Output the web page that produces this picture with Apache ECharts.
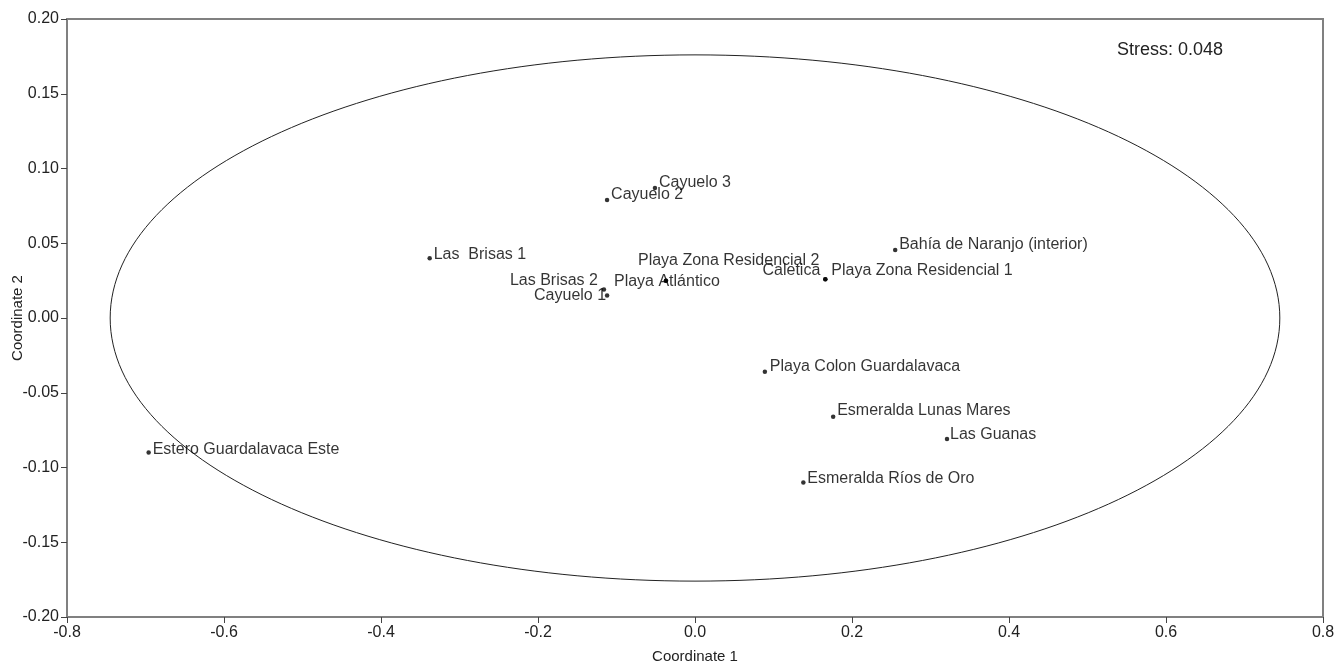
<!DOCTYPE html>
<html>
<head>
<meta charset="utf-8">
<script src="https://cdn.jsdelivr.net/npm/echarts@6/dist/echarts.min.js"></script>
<style>html,body{margin:0;padding:0;background:#fff}#c{width:1337px;height:666px}</style>
</head>
<body>
<div id="c"></div>
<script>
// ---- data ----
var siteNames = ['Estero Guardalavaca Este','Las  Brisas 1','Cayuelo 2','Cayuelo 3','Las Brisas 2','Cayuelo 1','Playa Atlántico','Playa Zona Residencial 2','Caletica','Playa Zona Residencial 1','Bahía de Naranjo (interior)','Playa Colon Guardalavaca','Esmeralda Lunas Mares','Las Guanas','Esmeralda Ríos de Oro'];
var coord1 = [-0.696,-0.338,-0.112,-0.051,-0.116,-0.112,-0.037,-0.037,0.166,0.166,0.255,0.089,0.176,0.321,0.138];
var coord2 = [-0.090,0.040,0.079,0.087,0.019,0.015,0.025,0.025,0.026,0.026,0.0455,-0.036,-0.066,-0.081,-0.110];
var ellipseCenter = [0, 0];
var ellipseRadii = [0.745, 0.176];
var stressText = 'Stress: 0.048';
var xAxisName = 'Coordinate 1';
var yAxisName = 'Coordinate 2';
var xTicks = [-0.8,-0.6,-0.4,-0.2,0.0,0.2,0.4,0.6,0.8];
var yTicks = [-0.20,-0.15,-0.10,-0.05,0.00,0.05,0.10,0.15,0.20];

// ---- label placement (style only): [dx from dot to text anchor, dy to text middle, align] ----
var labelPlace = {
  'Estero Guardalavaca Este': [4,-3,'left'],
  'Las  Brisas 1': [4,-4,'left'],
  'Cayuelo 2': [4,-5,'left'],
  'Cayuelo 3': [4,-5,'left'],
  'Las Brisas 2': [-6,-9,'right'],
  'Cayuelo 1': [-1,0,'right'],
  'Playa Atlántico': [-52,1,'left'],
  'Playa Zona Residencial 2': [-28,-20,'left'],
  'Caletica': [-5,-9,'right'],
  'Playa Zona Residencial 1': [6,-9,'left'],
  'Bahía de Naranjo (interior)': [4,-5,'left'],
  'Playa Colon Guardalavaca': [5,-5,'left'],
  'Esmeralda Lunas Mares': [4,-6,'left'],
  'Las Guanas': [3,-5,'left'],
  'Esmeralda Ríos de Oro': [4,-4,'left']
};

var FONT = '"Liberation Sans", Arial, sans-serif';
var SYM = 4.5;
var pts = siteNames.map(function(n,i){
  var p = labelPlace[n] || [4,-5,'left'];
  return {
    name: n,
    value: [coord1[i], coord2[i]],
    label: {show:true, formatter:n, position:[SYM/2 + p[0], SYM/2 + p[1]], align:p[2], verticalAlign:'middle',
            color:'#000', fontSize:16, fontFamily:FONT}
  };
});

var chart = echarts.init(document.getElementById('c'), null, {renderer:'canvas'});
var axisCommon = {
  axisLine:{show:true, onZero:false, lineStyle:{color:'#808080', width:2}},
  axisTick:{show:true, length:6, lineStyle:{color:'#444', width:1}},
  splitLine:{show:false},
  axisLabel:{color:'#222', fontSize:16, fontFamily:FONT}
};
chart.setOption({
  animation:false,
  backgroundColor:'#fff',
  grid:{left:67, right:14, top:19, bottom:49, show:true, borderColor:'#808080', borderWidth:2, containLabel:false, outerBoundsMode:'none'},
  xAxis: Object.assign({}, axisCommon, {
    type:'value', min:xTicks[0], max:xTicks[xTicks.length-1], interval:0.2,
    name:xAxisName, nameLocation:'middle', nameGap:32,
    nameTextStyle:{color:'#222', fontSize:15, fontFamily:FONT},
    axisLabel:Object.assign({}, axisCommon.axisLabel, {margin:8, formatter:function(v){return v.toFixed(1);}})
  }),
  yAxis: Object.assign({}, axisCommon, {
    type:'value', min:yTicks[0], max:yTicks[yTicks.length-1], interval:0.05,
    axisLabel:Object.assign({}, axisCommon.axisLabel, {margin:8, formatter:function(v){return v.toFixed(2);}})
  }),
  graphic:[
    {type:'text', left:1117, top:41, style:{text:stressText, fill:'#222', font:'18px "Liberation Sans", Arial, sans-serif'}},
    {type:'text', x:18, y:318, rotation:Math.PI/2, style:{text:yAxisName, fill:'#222', align:'center', verticalAlign:'middle', font:'15px "Liberation Sans", Arial, sans-serif'}}
  ],
  series:[
    {
      type:'custom',
      coordinateSystem:'cartesian2d',
      silent:true,
      clip:false,
      data:[[ellipseCenter[0], ellipseCenter[1], ellipseRadii[0], ellipseRadii[1]]],
      encode:{x:0, y:1},
      renderItem:function(params, api){
        var c = api.coord([api.value(0), api.value(1)]);
        var s = api.size([api.value(2), api.value(3)]);
        return {type:'ellipse', shape:{cx:c[0], cy:c[1], rx:s[0], ry:s[1]},
                style:{stroke:'#222', lineWidth:1, fill:null}};
      },
      z:1
    },
    {
      type:'scatter',
      symbol:'circle',
      symbolSize:SYM,
      itemStyle:{color:'#000'},
      data:pts,
      labelLayout:{hideOverlap:false},
      z:3
    }
  ]
});
</script>
</body>
</html>
